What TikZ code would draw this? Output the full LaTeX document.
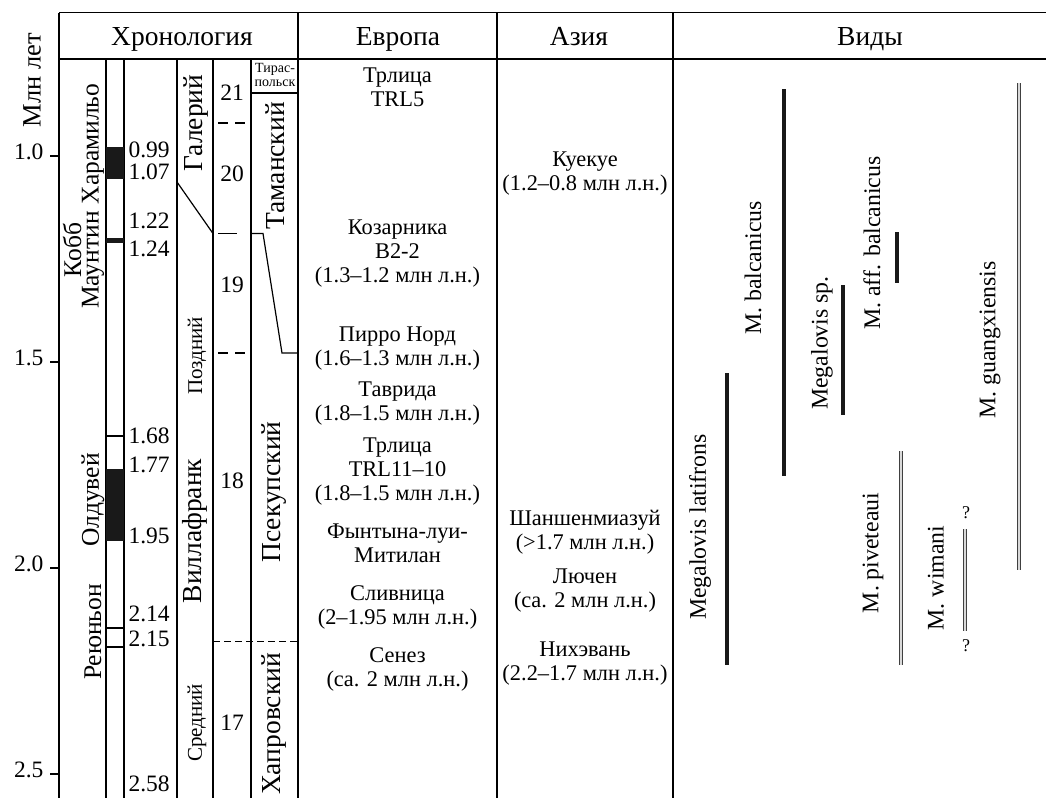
\documentclass[tikz,border=0pt]{standalone}
\usepackage{fontspec}
\setmainfont{Liberation Serif}
\begin{document}
\begin{tikzpicture}[x=1pt,y=-1pt,line width=1.2pt,
  hdr/.style={font=\fontsize{27.5}{30}\selectfont,inner sep=0pt,anchor=base},
  site/.style={font=\fontsize{22.4}{24}\selectfont,align=center,inner sep=0pt},
  num/.style={font=\fontsize{23.5}{26}\selectfont,inner sep=0pt,text height=0.66em,text depth=0pt},
  tirlab/.style={font=\fontsize{14}{14}\selectfont,inner sep=0pt,text height=0.62em,text depth=0pt},
  rotlab/.style={font=\fontsize{25.5}{28}\selectfont,rotate=90,inner sep=0pt},
  biglab/.style={font=\fontsize{27.5}{30}\selectfont,rotate=90,inner sep=0pt},
  smalllab/.style={font=\fontsize{21}{23}\selectfont,rotate=90,inner sep=0pt},
  splab/.style={font=\fontsize{23.8}{26}\selectfont,rotate=90,inner sep=0pt},
  thickbar/.style={line width=4pt,black!90},
  dbar/.style={draw=black!75,line width=1.2pt,double=black!15,double distance=1.8pt},
  dashline/.style={dash pattern=on 7pt off 4pt}
]
\useasboundingbox (0,0) rectangle (1046,798);

% ---- table grid ----
\draw (59,12.7) -- (1046,12.7);
\draw (59,59) -- (1046,59);
\foreach \xx in {59,298,497,673} \draw (\xx,12.7) -- (\xx,798);
\foreach \xx in {106,124,177,213,251} \draw (\xx,59) -- (\xx,798);
\draw (251,93) -- (298,93);

% ---- headers ----
\node[hdr] (hchron) at (182,45) {Хронология};
\node[hdr] (heur) at (398,45) {Европа};
\node[hdr] (hasia) at (579,45) {Азия};
\node[hdr] (hspec) at (870,45) {Виды};

% ---- age axis ----
\node[font=\fontsize{26.5}{28}\selectfont,rotate=90,inner sep=0pt] (axis) at (32,80) {Млн лет};
\foreach \yy/\lab [count=\i] in {156/1.0,362/1.5,568/2.0,774/2.5}{
  \draw (50,\yy) -- (59,\yy);
  \node[num,anchor=east] (tick\i) at (44,\yy) {\lab};
}

% ---- polarity column ----
\fill[black!90] (106,147) rectangle (124,179);
\fill[black!90] (106,238) rectangle (124,243);
\fill[black!90] (106,469) rectangle (124,541);
\draw (106,436) -- (124,436);
\draw (106,628) -- (124,628);
\draw (106,647) -- (124,647);

\foreach \yy/\lab [count=\i] in {154/0.99,176.5/1.07,225/1.22,253/1.24,440/1.68,469/1.77,540/1.95,618/2.14,643/2.15,788/2.58}
  \node[num,anchor=west] (age\i) at (128,\yy) {\lab};

\node[rotlab] (jar) at (93,144) {Харамильо};
\node[rotlab] (cobb) at (72,250) {Кобб};
\node[rotlab] (mount) at (93,260) {Маунтин};
\node[rotlab] (oldu) at (93,500) {Олдувей};
\node[rotlab] (reun) at (93,632) {Реюньон};

% ---- stages ----
\node[biglab] (gal) at (196,123) {Галерий};
\node[smalllab] (late) at (197,356) {Поздний};
\node[biglab] (vill) at (195,531) {Виллафранк};
\node[smalllab] (mid) at (197,723) {Средний};

\node[num] (n21) at (232,97) {21};
\node[num] (n20) at (232,178) {20};
\node[num] (n19) at (232,289) {19};
\node[num] (n18) at (232,485) {18};
\node[num] (n17) at (232,727) {17};

\draw (218,123) -- (228,123);
\draw (235,123) -- (245,123);
\draw (218,353) -- (228,353);
\draw (235,353) -- (245,353);
\draw (218,233.5) -- (237,233.5);
\draw (177,182) -- (213,233.5);
\draw (251,233.5) -- (263,233.5) -- (282,353) -- (298,353);
\draw[dashline] (213,641.7) -- (298,641.7);

\node[tirlab] (tir1) at (275,69.5) {Тирас-};
\node[tirlab] (tir2) at (275,83) {польск};
\node[biglab] (taman) at (275,166) {Таманский};
\node[biglab] (psek) at (274,492) {Псекупский};
\node[biglab] (hapr) at (274,724) {Хапровский};

% ---- Europe ----
\node[site] (e1) at (397.5,87.5) {Трлица\\TRL5};
\node[site] (e2) at (397.5,253.5) {Козарника\\B2-2\\(1.3--1.2 млн л.н.)};
\node[site] (e3) at (397.5,348.5) {Пирро Норд\\(1.6--1.3 млн л.н.)};
\node[site] (e4) at (397.5,404) {Таврида\\(1.8--1.5 млн л.н.)};
\node[site] (e5) at (397.5,472) {Трлица\\TRL11--10\\(1.8--1.5 млн л.н.)};
\node[site] (e6) at (397.5,543.5) {Фынтына-луи-\\Митилан};
\node[site] (e7) at (397.5,607.5) {Сливница\\(2--1.95 млн л.н.)};
\node[site] (e8) at (397.5,669.5) {Сенез\\(ca. 2 млн л.н.)};

% ---- Asia ----
\node[site] (a1) at (585,173.5) {Куекуе\\(1.2--0.8 млн л.н.)};
\node[site] (a2) at (585,532.5) {Шаншенмиазуй\\(>1.7 млн л.н.)};
\node[site] (a3) at (585,590.5) {Лючен\\(ca. 2 млн л.н.)};
\node[site] (a4) at (585,664) {Нихэвань\\(2.2--1.7 млн л.н.)};

% ---- species ----
\draw[thickbar] (727,373) -- (727,665);
\draw[thickbar] (784,89) -- (784,476);
\draw[thickbar] (843,285) -- (843,415);
\draw[thickbar] (897,232) -- (897,283);
\draw[dbar] (1019,83) -- (1019,570);
\draw[dbar] (901,451) -- (901,665);
\draw[dbar] (965,529) -- (965,631);

\node[splab] (s1) at (700,527) {Megalovis latifrons};
\node[splab] (s2) at (753,268) {M. balcanicus};
\node[splab] (s3) at (822,343) {Megalovis sp.};
\node[splab] (s4) at (872,243) {M. aff. balcanicus};
\node[splab] (s5) at (990,340) {M. guangxiensis};
\node[splab] (s6) at (873,553) {M. piveteaui};
\node[splab] (s7) at (936,578) {M. wimani};
\node[font=\fontsize{18}{18}\selectfont,inner sep=0pt] (q1) at (966,513) {?};
\node[font=\fontsize{18}{18}\selectfont,inner sep=0pt] (q2) at (966,646) {?};
\end{tikzpicture}
\end{document}
